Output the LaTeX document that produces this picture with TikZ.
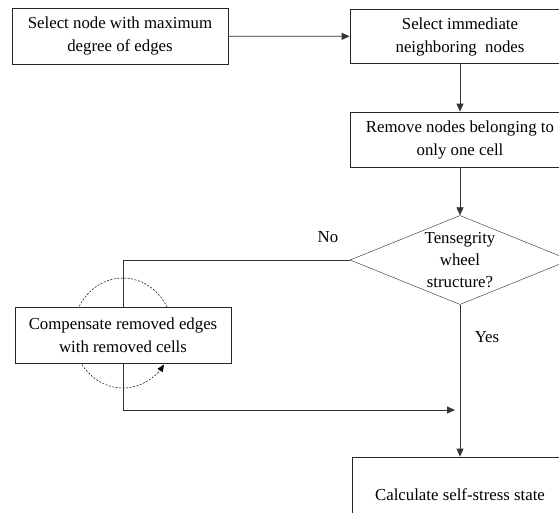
\documentclass[tikz,border=0pt]{standalone}
\usepackage{fontspec}
\setmainfont{Liberation Serif}
\usetikzlibrary{arrows.meta,shapes.geometric,positioning,backgrounds}

\begin{document}
\begin{tikzpicture}[x=1pt,y=-1pt,
    box/.style={draw=black!85, fill=white, line width=0.8pt, minimum width=216pt, minimum height=56pt, align=center, inner sep=1pt, font=\fontsize{16.8}{23}\selectfont},
    decide/.style={draw=black!85, fill=white, diamond, aspect=2.47, minimum width=220pt, minimum height=89pt, inner sep=0pt, align=center, font=\fontsize{16.8}{22}\selectfont},
    line/.style={draw=black!80, line width=0.8pt},
    arrow/.style={line, -{Triangle[length=8pt,width=7pt]}},
    lbl/.style={font=\fontsize{16.8}{20}\selectfont}]
    \useasboundingbox (0,0) rectangle (559,512);
    \clip (0,0) rectangle (559,512);

    \node[box] (select) at (120,36) {Select node with maximum\\degree of edges};
    \node[box, minimum width=220pt, minimum height=54pt] (neigh) at (460,36.5) {Select immediate\\neighboring\ \ nodes};
    \node[box, minimum width=220pt, minimum height=55pt] (remove) at (460,139.5) {Remove nodes belonging to\\only one cell};
    \node[decide] (wheel) at (460,260) {Tensegrity\\wheel\\structure?};
    \node[box] (comp) at (123,335) {Compensate removed edges\\with removed cells};
    \node[box, minimum height=76pt] (calc) at (460,495) {Calculate self-stress state};

    \coordinate (merge) at (455,410);

    \draw[arrow] (select) -- (neigh);
    \draw[arrow] (neigh) -- (remove);
    \draw[arrow] (remove) -- (wheel);
    \draw[arrow] (wheel) -- (calc);
    \draw[line] (wheel.west) -| (comp.north);
    \draw[arrow] (comp.south) |- (merge);

    \node[lbl] (no) at (328,237) {No};
    \node[lbl] (yes) at (487,337) {Yes};

    % dashed loop behind the box
    \begin{scope}[on background layer]
        \draw[black, line width=0.5pt, dash pattern=on 2pt off 1.5pt, -{Triangle[length=7pt,width=6pt]}]
            (167.1,307.2) arc[start angle=-28, end angle=-325, x radius=50, y radius=55];
    \end{scope}
\end{tikzpicture}
\end{document}
